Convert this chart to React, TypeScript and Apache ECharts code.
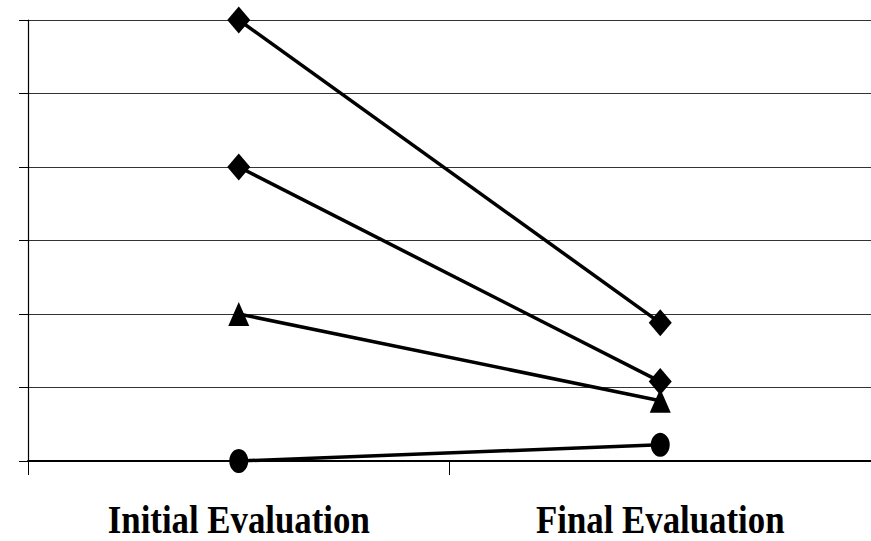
import React, { useEffect, useRef } from "react";
import * as echarts from "echarts";

const categories = ["Initial Evaluation", "Final Evaluation"];
const seriesA = [6, 1.88];
const seriesB = [4, 1.08];
const seriesC = [2, 0.82];
const seriesD = [0, 0.22];
const yMin = 0;
const yMax = 6;
const yInterval = 1;

export default function App() {
  const ref = useRef<HTMLDivElement>(null);
  useEffect(() => {
    if (!ref.current) return;
    const chart = echarts.init(ref.current, undefined, { renderer: "svg" });
    const lineStyle = { color: "#000", width: 3.5 };
    const mk = (name: string, data: number[], symbol: string, size: number[]) => ({
      name,
      type: "line",
      data,
      symbol,
      symbolSize: size,
      showSymbol: true,
      clip: false,
      lineStyle,
      itemStyle: { color: "#000", borderWidth: 0 },
      emphasis: { disabled: true },
    });
    chart.setOption({
      animation: false,
      backgroundColor: "#fff",
      grid: { left: 28, right: -7, top: 20, bottom: 80, containLabel: false },
      xAxis: {
        type: "category",
        data: categories,
        boundaryGap: true,
        axisLine: { show: true, lineStyle: { color: "#000", width: 1.8 } },
        axisTick: { show: true, length: 14, lineStyle: { color: "#000", width: 1 } },
        axisLabel: { show: false },
        splitLine: { show: false },
      },
      yAxis: {
        type: "value",
        min: yMin,
        max: yMax,
        interval: yInterval,
        axisLine: { show: true, lineStyle: { color: "#000", width: 1.2 } },
        axisTick: { show: true, length: 9, lineStyle: { color: "#000", width: 1 } },
        axisLabel: { show: false },
        splitLine: { show: true, lineStyle: { color: "#333", width: 1 } },
      },
      legend: { show: false },
      series: [
        mk("Series 1", seriesA, "diamond", [23, 27]),
        mk("Series 2", seriesB, "diamond", [23, 27]),
        mk("Series 3", seriesC, "triangle", [21, 24]),
        mk("Series 4", seriesD, "circle", [19, 24]),
      ],
    });
    const bottom = chart.convertToPixel({ yAxisIndex: 0 }, yMin) as number;
    chart.setOption({
      graphic: categories.map((c) => ({
        type: "text",
        x: chart.convertToPixel({ xAxisIndex: 0 }, c) as number,
        y: bottom + 59,
        scaleX: 0.87,
        style: {
          text: c,
          fill: "#000",
          fontFamily: "'Liberation Serif', 'Times New Roman', serif",
          fontWeight: "bold",
          fontSize: 40,
          align: "center",
          verticalAlign: "middle",
        },
      })),
    });
    return () => chart.dispose();
  }, []);
  return (
    <div
      ref={ref}
      style={{ position: "fixed", left: 0, top: 0, width: 871, height: 541, background: "#fff" }}
    />
  );
}
